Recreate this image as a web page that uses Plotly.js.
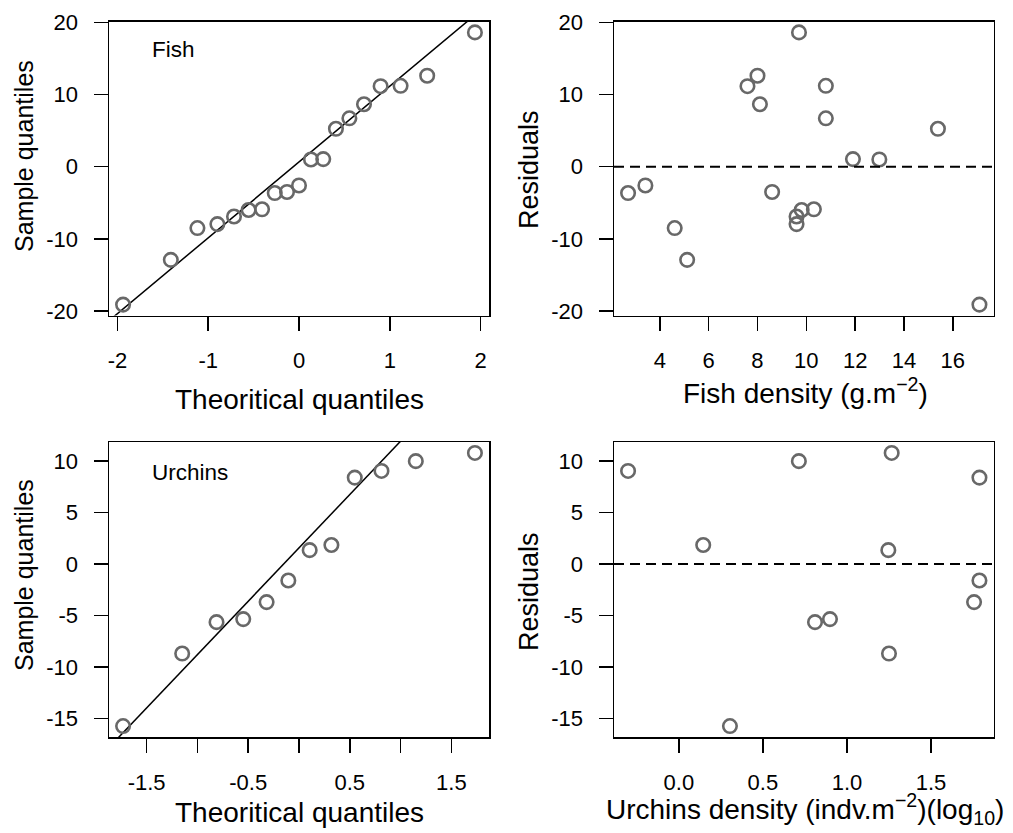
<!DOCTYPE html>
<html>
<head>
<meta charset="utf-8">
<script src="https://cdn.plot.ly/plotly-3.0.1.min.js"></script>
<style>html,body{margin:0;padding:0;background:#fff;}#chart{width:1013px;height:833px;}</style>
</head>
<body>
<div id="chart"></div>
<script>
// ---------- data ----------
// Fish: normal Q-Q (theoretical quantiles vs sample quantiles of residuals)
const fishTheo = [-1.938, -1.412, -1.119, -0.899, -0.716, -0.555, -0.407, -0.267, -0.132, 0, 0.132, 0.267, 0.407, 0.555, 0.716, 0.899, 1.119, 1.412, 1.938];
const fishSample = [-19.1, -12.9, -8.5, -7.95, -6.9, -6.0, -5.9, -3.65, -3.5, -2.6, 1.0, 1.05, 5.25, 6.7, 8.65, 11.15, 11.2, 12.6, 18.6];
const fishQQLine = {intercept: 0.65, slope: 10.5};
// Fish: residuals vs fish density
const fishDensity = [2.70, 3.41, 4.61, 5.12, 7.59, 8.00, 8.10, 8.60, 9.70, 9.60, 9.60, 9.81, 10.31, 10.80, 10.80, 11.91, 12.99, 15.39, 17.09];
const fishResid = [-3.65, -2.6, -8.5, -12.9, 11.15, 12.6, 8.65, -3.5, 18.6, -7.95, -6.9, -6.0, -5.9, 11.2, 6.7, 1.05, 1.0, 5.25, -19.1];
// Urchins: normal Q-Q
const urchTheo = [-1.732, -1.150, -0.812, -0.549, -0.319, -0.105, 0.105, 0.319, 0.549, 0.812, 1.150, 1.732];
const urchSample = [-15.75, -8.7, -5.65, -5.35, -3.7, -1.6, 1.35, 1.85, 8.4, 9.05, 10.0, 10.8];
const urchQQLine = {intercept: 1.57, slope: 10.37};
// Urchins: residuals vs log10 urchin density
const urchDensity = [-0.302, 0.145, 0.304, 0.714, 0.81, 0.899, 1.266, 1.246, 1.25, 1.788, 1.788, 1.756];
const urchResid = [9.05, 1.85, -15.75, 10.0, -5.65, -5.35, 10.8, 1.35, -8.7, 8.4, -1.6, -3.7];

// tick values / labels
const ticksFishQQx = [-2, -1, 0, 1, 2];
const labelsFishQQx = ['-2', '-1', '0', '1', '2'];
const ticksFishY = [-20, -10, 0, 10, 20];
const labelsFishY = ['-20', '-10', '0', '10', '20'];
const ticksFishDens = [4, 6, 8, 10, 12, 14, 16];
const labelsFishDens = ['4', '6', '8', '10', '12', '14', '16'];
const ticksUrchQQx = [-1.5, -1, -0.5, 0, 0.5, 1, 1.5];
const labelsUrchQQx = ['-1.5', '', '-0.5', '', '0.5', '', '1.5'];
const ticksUrchY = [-15, -10, -5, 0, 5, 10];
const labelsUrchY = ['-15', '-10', '-5', '0', '5', '10'];
const ticksUrchDens = [0, 0.5, 1, 1.5];
const labelsUrchDens = ['0.0', '0.5', '1.0', '1.5'];

// ---------- helpers ----------
const FONT = 'Liberation Sans, Arial, Helvetica, sans-serif';
const W = 1013, H = 833;
function ext(a) { const mn = Math.min(...a), mx = Math.max(...a), d = (mx - mn) * 0.04; return [mn - d, mx + d]; }
const px = v => v / W;
const py = v => 1 - v / H;

const rX1 = ext(fishTheo), rY1 = ext(fishSample);
const rX2 = ext(fishDensity), rY2 = ext(fishResid);
const rX3 = ext(urchTheo), rY3 = ext(urchSample);
const rX4 = ext(urchDensity), rY4 = ext(urchResid);

const ptMarker = {symbol: 'circle-open', size: 13.5, color: '#686868', line: {width: 2.6, color: '#686868'}};
const lineStyle = {color: '#000', width: 1.5};

function pts(x, y, xa, ya) { return {type: 'scatter', mode: 'markers', x: x, y: y, xaxis: xa, yaxis: ya, marker: ptMarker, hoverinfo: 'x+y', cliponaxis: false}; }
function qqline(p, r, xa, ya) { return {type: 'scatter', mode: 'lines', x: r, y: r.map(v => p.intercept + p.slope * v), xaxis: xa, yaxis: ya, line: lineStyle, hoverinfo: 'skip'}; }

const data = [
  qqline(fishQQLine, rX1, 'x', 'y'),
  pts(fishTheo, fishSample, 'x', 'y'),
  pts(fishDensity, fishResid, 'x2', 'y2'),
  qqline(urchQQLine, rX3, 'x3', 'y3'),
  pts(urchTheo, urchSample, 'x3', 'y3'),
  pts(urchDensity, urchResid, 'x4', 'y4')
];

function ax(domain, range, tv, tt, isX, anchor) {
  return {
    domain: domain, range: range, anchor: anchor,
    tickvals: tv, ticktext: tt, tickmode: 'array',
    showline: true, linecolor: '#000', linewidth: 1.5, mirror: true,
    ticks: 'outside', ticklen: 14, tickwidth: 1.5, tickcolor: '#000',
    ticklabelstandoff: isX ? 11 : 11,
    showgrid: false, zeroline: false,
    tickfont: {family: FONT, size: 22, color: '#000'},
    fixedrange: true
  };
}
const dxL = [px(109), px(489)], dxR = [px(614), px(993.5)];
const dyT = [py(315.5), py(21.5)], dyB = [py(737), py(442)];

function ann(text, x, y, rot, xanchor, size) {
  return {text: text, x: x, y: y, xref: 'paper', yref: 'paper', showarrow: false,
    xanchor: xanchor || 'center', yanchor: 'middle', textangle: rot || 0,
    font: {family: FONT, size: size, color: '#000'}};
}

const layout = {
  width: W, height: H,
  margin: {l: 0, r: 0, t: 0, b: 0, pad: 0},
  paper_bgcolor: '#fff', plot_bgcolor: '#fff',
  showlegend: false,
  xaxis: ax(dxL, rX1, ticksFishQQx, labelsFishQQx, true, 'y'),
  yaxis: ax(dyT, rY1, ticksFishY, labelsFishY, false, 'x'),
  xaxis2: ax(dxR, rX2, ticksFishDens, labelsFishDens, true, 'y2'),
  yaxis2: ax(dyT, rY2, ticksFishY, labelsFishY, false, 'x2'),
  xaxis3: ax(dxL, rX3, ticksUrchQQx, labelsUrchQQx, true, 'y3'),
  yaxis3: ax(dyB, rY3, ticksUrchY, labelsUrchY, false, 'x3'),
  xaxis4: ax(dxR, rX4, ticksUrchDens, labelsUrchDens, true, 'y4'),
  yaxis4: ax(dyB, rY4, ticksUrchY, labelsUrchY, false, 'x4'),
  shapes: [
    {type: 'line', xref: 'x2 domain', yref: 'y2', x0: 0, x1: 1, y0: 0, y1: 0, line: {color: '#000', width: 2, dash: '10px,6px'}},
    {type: 'line', xref: 'x4 domain', yref: 'y4', x0: 0, x1: 1, y0: 0, y1: 0, line: {color: '#000', width: 2, dash: '10px,6px'}}
  ],
  annotations: [
    ann('Theoritical quantiles', px(299), py(399), 0, 'center', 28),
    ann('Fish density (g.m<sup>\u22122</sup>)', px(805), py(391), 0, 'center', 28),
    ann('Theoritical quantiles', px(299), py(812), 0, 'center', 28),
    ann('Urchins density (indv.m<sup>\u22122</sup>)(log<sub>10</sub>)', px(805), py(809), 0, 'center', 28),
    ann('Sample quantiles', px(24), py(156), -90, 'center', 25),
    ann('Residuals', px(529), py(170), -90, 'center', 27),
    ann('Sample quantiles', px(24), py(575), -90, 'center', 25),
    ann('Residuals', px(529), py(592), -90, 'center', 27),
    ann('Fish', px(150), py(49), 0, 'left', 22.5),
    ann('Urchins', px(150), py(472), 0, 'left', 22.5)
  ]
};

Plotly.newPlot('chart', data, layout, {displayModeBar: false, staticPlot: true});
</script>
</body>
</html>
